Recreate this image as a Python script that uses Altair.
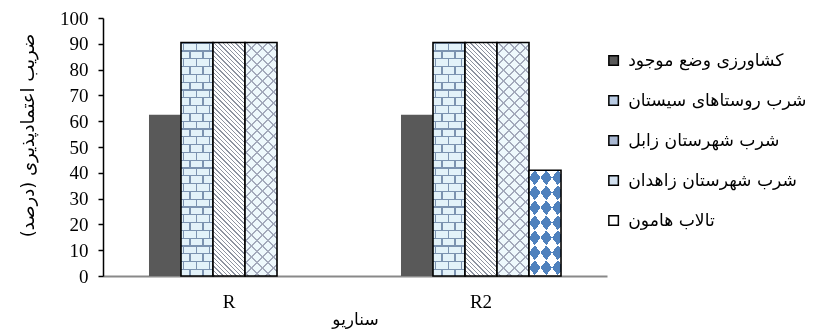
import math
import altair as alt
import pandas as pd

# ---------------- data ----------------
scenarios = ["R", "R2"]
series = [
    "کشاورزی وضع موجود",
    "شرب روستاهای سیستان",
    "شرب شهرستان زابل",
    "شرب شهرستان زاهدان",
    "تالاب هامون",
]
values_R = [62.5, 90.5, 90.5, 90.5, None]
values_R2 = [62.5, 90.5, 90.5, 90.5, 41]
y_ticks = [0, 10, 20, 30, 40, 50, 60, 70, 80, 90, 100]

rows = []
for sc, vals in zip(scenarios, [values_R, values_R2]):
    for s, v in zip(series, vals):
        if v is not None:
            rows.append({"scenario": sc, "series": s, "value": v})
df = pd.DataFrame(rows)

# ---------------- styling helpers (pattern fills via striped gradients) ----------------
PLOT_W, PLOT_H = 504, 258
BAR_W = 32


def stripe_gradient(W, H, kx, ky, duty, on, off, phase=0.0):
    corners = [(0, 0), (W, 0), (0, H), (W, H)]
    ts = [kx * x + ky * y for x, y in corners]
    tmin, tmax = min(ts), max(ts)
    span = tmax - tmin
    i = ts.index(tmin)
    cx, cy = corners[i][0] / W, corners[i][1] / H
    gx, gy = kx * W / span, ky * H / span
    n2 = gx * gx + gy * gy
    x1, y1 = cx, cy
    x2, y2 = cx + gx / n2, cy + gy / n2

    def col_at(t):
        frac = (t - phase) % 1.0
        return on if frac < duty else off

    bounds = []
    k = math.floor(tmin) - 1
    while k <= tmax + 1:
        for b in (k + phase, k + phase + duty):
            if tmin < b < tmax:
                bounds.append(b)
        k += 1
    bounds.sort()
    stops = [(0.0, col_at(tmin + 1e-9))]
    for b in bounds:
        o = round((b - tmin) / span, 5)
        stops.append((o, col_at(b - 1e-9)))
        stops.append((o, col_at(b + 1e-9)))
    stops.append((1.0, col_at(tmax - 1e-9)))
    return {
        "gradient": "linear",
        "x1": x1, "y1": y1, "x2": x2, "y2": y2,
        "stops": [{"offset": o, "color": c} for o, c in stops],
    }


CLEAR = "rgba(255,255,255,0)"
WHITE, BLACK = "#ffffff", "#000000"
H_TALL = 0.905 * PLOT_H
H_S5 = 0.41 * PLOT_H

# brick pattern (built with blend modes)
ROW_H, BRICK_W, LINE = 7.8, 13.0, 1.3
brick_v_all = stripe_gradient(BAR_W, H_TALL, 2 / BRICK_W, 0, LINE * 2 / BRICK_W, WHITE, BLACK, phase=0.3)
brick_odd = stripe_gradient(BAR_W, H_TALL, 0, 1 / (2 * ROW_H), 0.5, WHITE, BLACK, phase=0.5)
brick_v0 = stripe_gradient(BAR_W, H_TALL, 1 / BRICK_W, 0, LINE / BRICK_W, WHITE, BLACK, phase=0.15)
brick_h = stripe_gradient(BAR_W, H_TALL, 0, 1 / ROW_H, LINE / ROW_H, WHITE, BLACK)
BRICK_BG = "#e3f2f9"
BRICK_D = "#675f49"  # BRICK_BG minus mortar colour (#7c93b0)

grad_diag = stripe_gradient(BAR_W, H_TALL, 1 / 4.3, -1 / 4.3, 0.3, "#8d93a0", WHITE)
grad_cross_a = stripe_gradient(BAR_W, H_TALL, 1 / 11, 1 / 11, 0.16, "#a3a9bb", "#eef8fc")
grad_cross_b = stripe_gradient(BAR_W, H_TALL, 1 / 11, -1 / 11, 0.16, "#a3a9bb", CLEAR)
# diamonds = XOR of two diagonal stripe sets (via difference blending)
DX, DY = 11.5, 15.0
XCOL = "#b07e42"  # white minus blue (#4f81bd)
grad_dia_a = stripe_gradient(BAR_W, H_S5, 1 / (2 * DX), 1 / (2 * DY), 0.5, XCOL, BLACK, phase=0.25)
grad_dia_b = stripe_gradient(BAR_W, H_S5, 1 / (2 * DX), -1 / (2 * DY), 0.5, XCOL, BLACK, phase=0.25)

legend_colors = ["#595959", "#b9cbe3", "#a9b8d2", "#d3e1f0", "#ffffff"]

# ---------------- chart ----------------
PERSIAN_FONT = "DejaVu Sans"
NUM_FONT = "Times New Roman, Liberation Serif, serif"

X = alt.X(
    "scenario:N",
    sort=scenarios,
    scale=alt.Scale(domain=scenarios, paddingInner=0.365, paddingOuter=0.1825),
    axis=alt.Axis(
        title="سناریو",
        labelAngle=0,
        ticks=False,
        domainColor="#898989",
        domainWidth=2,
        labelFont=NUM_FONT,
        labelFontSize=19,
        labelColor="black",
        labelPadding=16,
        titleFont=PERSIAN_FONT,
        titleFontSize=17,
        titleFontWeight="normal",
        titleColor="black",
        titleBaseline="top",
        titleY=35,
    ),
)
XO = alt.XOffset(
    "series:N",
    sort=series,
    scale=alt.Scale(domain=series, paddingInner=0, paddingOuter=0),
)
Y = alt.Y(
    "value:Q",
    scale=alt.Scale(domain=[0, 100], nice=False),
    axis=alt.Axis(
        title="ضریب اعتمادپذیری (درصد)",
        values=y_ticks,
        grid=False,
        domainColor="black",
        domainWidth=1.5,
        tickColor="black",
        tickSize=5,
        tickWidth=1.5,
        labelFont=NUM_FONT,
        labelFontSize=19,
        labelColor="black",
        labelPadding=10,
        titleFont=PERSIAN_FONT,
        titleFontSize=18,
        titleFontWeight="normal",
        titleColor="black",
        titleBaseline="bottom",
        titleX=-66,
        titleY=117,
    ),
)

base = alt.Chart(df).encode(x=X, xOffset=XO, y=Y)

layer_s1 = base.transform_filter(alt.datum.series == series[0]).mark_bar(strokeWidth=0).encode(
    color=alt.Color(
        "series:N",
        sort=series,
        scale=alt.Scale(domain=series, range=legend_colors),
        legend=alt.Legend(
            title=None,
            orient="none",
            legendX=502,
            legendY=34,
            symbolType="square",
            symbolSize=90,
            symbolStrokeColor="black",
            symbolStrokeWidth=1.5,
            symbolOpacity=1,
            labelFont=PERSIAN_FONT,
            labelFontSize=17.2,
            labelColor="black",
            labelLimit=400,
            labelOffset=6,
            rowPadding=22,
        ),
    )
)


def patterned(idx, fill, stroke=True, blend=None):
    kw = dict(fill=fill, fillOpacity=1)
    if stroke:
        kw.update(stroke="black", strokeWidth=1.6)
    else:
        kw.update(strokeWidth=0)
    if blend:
        kw.update(blend=blend)
    return base.transform_filter(alt.datum.series == series[idx]).mark_bar(**kw)


layers = [
    layer_s1,
    # bricks
    patterned(1, brick_v_all, stroke=False),
    patterned(1, brick_odd, stroke=False, blend="multiply"),
    patterned(1, brick_v0, stroke=False, blend="difference"),
    patterned(1, brick_h, stroke=False, blend="lighten"),
    patterned(1, BRICK_D, stroke=False, blend="multiply"),
    patterned(1, BRICK_BG, stroke=False, blend="difference"),
    patterned(1, CLEAR),
    # diagonal lines
    patterned(2, grad_diag),
    # cross hatch
    patterned(3, grad_cross_a, stroke=False),
    patterned(3, grad_cross_b),
    # diamonds
    patterned(4, grad_dia_a, stroke=False),
    patterned(4, grad_dia_b, stroke=False, blend="difference"),
    patterned(4, WHITE, stroke=False, blend="difference"),
    patterned(4, CLEAR),
]

chart = (
    alt.layer(*layers)
    .properties(
        width=PLOT_W,
        height=PLOT_H,
        autosize=alt.AutoSizeParams(type="none"),
        padding={"left": 103, "top": 18, "right": 208, "bottom": 54},
        background="white",
    )
    .configure_view(stroke=None)
)

chart.save("out.html", embed_options={"renderer": "svg", "actions": False})
